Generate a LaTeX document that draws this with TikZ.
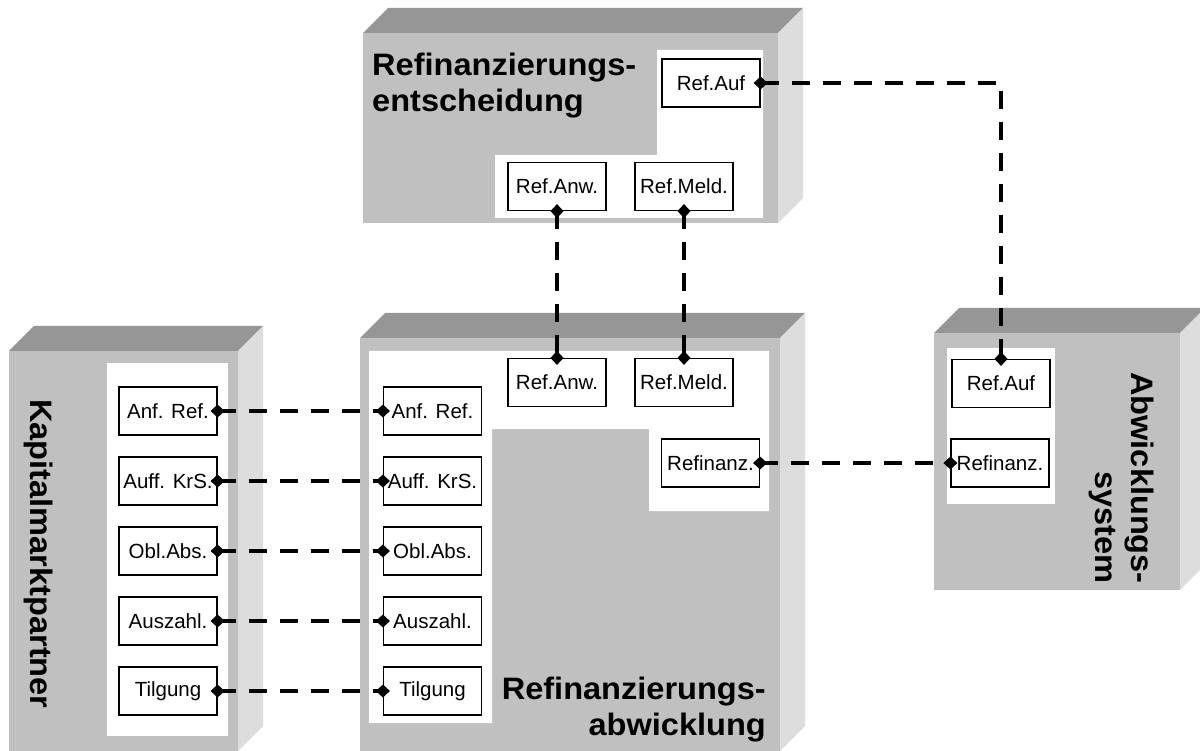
\documentclass[tikz,border=0pt]{standalone}
\usepackage{fontspec}
\setmainfont{Liberation Sans}
\newfontfamily\headfont[FakeStretch=1.05]{Liberation Sans}
\usetikzlibrary{decorations.markings}

\definecolor{facefront}{HTML}{C0C0C0}
\definecolor{facetop}{HTML}{969696}
\definecolor{faceside}{HTML}{DDDDDD}

\tikzset{
  frontface/.style={fill=facefront},
  topface/.style={fill=facetop},
  sideface/.style={fill=faceside},
  panel/.style={fill=white},
  port/.style={draw, line width=1.2pt, fill=white, minimum width=98pt,
    minimum height=48pt, inner sep=0pt, font=\fontsize{20.5}{23}\selectfont},
  heading/.style={font=\headfont\bfseries\fontsize{31}{36}\selectfont, inner sep=0pt},
  link/.style={line width=4.5pt, dash pattern=on 18pt off 13pt,
    postaction={decorate},
    decoration={markings,
      mark=at position 0 with {\fill (-7pt,0) -- (0,6.5pt) -- (7pt,0) -- (0,-6.5pt) -- cycle;},
      mark=at position 1 with {\fill (-7pt,0) -- (0,6.5pt) -- (7pt,0) -- (0,-6.5pt) -- cycle;}}}
}

% a block seen in perspective: front face (#1,#2)-(#3,#4), depth 25
\newcommand\blockbody[4]{%
  \fill[topface] (#1,#2) -- (#1+25,#2-25) -- (#3+25,#2-25) -- (#3,#2) -- cycle;
  \fill[sideface] (#3,#2) -- (#3+25,#2-25) -- (#3+25,#4-25) -- (#3,#4) -- cycle;
  \fill[frontface] (#1,#2) rectangle (#3,#4);
}

\begin{document}
\begin{tikzpicture}[x=1pt, y=-1pt]
  \useasboundingbox[fill=white] (0,0) rectangle (1200,751);

  % blocks
  \blockbody{363}{33}{778}{223}
  \blockbody{9}{351}{238}{751}
  \blockbody{360}{338}{780}{751}
  \blockbody{934}{333}{1180}{590}

  % white interface panels
  \fill[panel] (657,50) -- (763,50) -- (763,218) -- (495,218) -- (495,155) -- (657,155) -- cycle;
  \fill[panel] (107,363) rectangle (228,736);
  \fill[panel] (369,351) -- (769,351) -- (769,511) -- (649,511) -- (649,429)
    -- (492,429) -- (492,723) -- (369,723) -- cycle;
  \fill[panel] (947,348) rectangle (1055,504);

  % titles
  \node[heading, anchor=north west, align=left] (titleDec) at (372,53)
    {Refinanzierungs-\\entscheidung};
  \node[heading, anchor=south east, align=right] (titleExe) at (766,742)
    {Refinanzierungs-\\abwicklung};
  \node[heading, rotate=-90] (titlePar) at (39,554) {Kapitalmarktpartner};
  \node[heading, rotate=-90, align=right] (titleSys) at (1122,478)
    {Abwicklungs-\\system};

  % ports: decision block
  \node[port] (decAuf)  at (711,83)  {Ref.Auf};
  \node[port] (decAnw)  at (557,186.5) {Ref.Anw.};
  \node[port] (decMeld) at (684,186.5) {Ref.Meld.};

  % ports: capital market partner
  \node[port] (parAnf)  at (168,411) {Anf. Ref.};
  \node[port] (parAuff) at (168,481) {Auff. KrS.};
  \node[port] (parObl)  at (168,551) {Obl.Abs.};
  \node[port] (parAus)  at (168,621) {Auszahl.};
  \node[port] (parTil)  at (168,691) {Tilgung};

  % ports: execution block
  \node[port] (exeAnf)  at (432.5,411) {Anf. Ref.};
  \node[port] (exeAuff) at (432.5,481) {Auff. KrS.};
  \node[port] (exeObl)  at (432.5,551) {Obl.Abs.};
  \node[port] (exeAus)  at (432.5,621) {Auszahl.};
  \node[port] (exeTil)  at (432.5,691) {Tilgung};
  \node[port] (exeAnw)  at (557,382.5) {Ref.Anw.};
  \node[port] (exeMeld) at (684,382.5) {Ref.Meld.};
  \node[port] (exeRef)  at (710.5,463) {Refinanz.};

  % ports: settlement system
  \node[port] (sysAuf)  at (1001,383.5) {Ref.Auf};
  \node[port] (sysRef)  at (1000,463) {Refinanz.};

  % connectors
  \draw[link] (parAnf.east)  -- (exeAnf.west);
  \draw[link] (parAuff.east) -- (exeAuff.west);
  \draw[link] (parObl.east)  -- (exeObl.west);
  \draw[link] (parAus.east)  -- (exeAus.west);
  \draw[link] (parTil.east)  -- (exeTil.west);
  \draw[link] (decAnw.south) -- (exeAnw.north);
  \draw[link] (decMeld.south) -- (exeMeld.north);
  \draw[link] (decAuf.east) -| (sysAuf.north);
  \draw[link] (exeRef.east) -- (sysRef.west);
\end{tikzpicture}
\end{document}
